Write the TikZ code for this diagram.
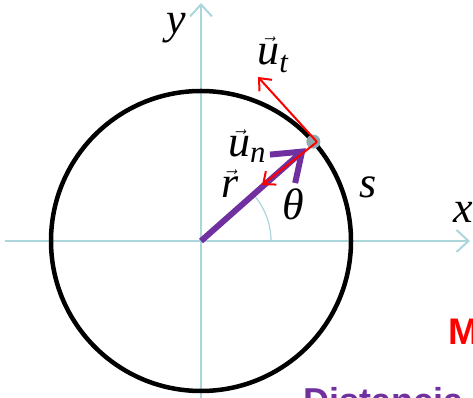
\documentclass[tikz,border=0pt]{standalone}
\usepackage{fontspec}
\setmainfont{Liberation Serif}
\newfontfamily\headfont{Liberation Sans}
\usepackage{amsmath}
\usepackage{xcolor}
\usepackage{tikz}
\usetikzlibrary{arrows.meta,positioning,calc}

\definecolor{axiscol}{RGB}{170,214,220}
\definecolor{vecpurple}{RGB}{112,48,160}
\definecolor{dotgray}{RGB}{145,168,172}

\tikzset{
  axis/.style={axiscol,line width=2pt,-{Straight Barb[length=12pt,width=22pt]}},
  lbl/.style={font=\fontsize{44}{44}\selectfont,inner sep=0pt},
  unitvec/.style={red,line width=2pt,-{Straight Barb[length=10pt,width=17pt]}}
}

\begin{document}
\begin{tikzpicture}[x=1pt,y=1pt]
  \useasboundingbox (0,0) rectangle (473,398);
  % axes
  \coordinate (O) at (201,157);
  \coordinate (xl) at (5,157);
  \coordinate (xr) at (470,157);
  \coordinate (yb) at (201,0);
  \coordinate (yt) at (201,395);
  \draw[axis] (xl) -- (xr);
  \draw[axis] (yb) -- (yt);
  % trajectory
  \draw[black,line width=4.5pt] (O) circle (150);
  % angle
  \draw[axiscol,line width=1.2pt] ($(O)+(70,0)$) arc (0:41.5:70);
  % position vector and unit vectors
  \coordinate (P) at ($(O)+(41.5:150)$);
  \coordinate (rend) at ($(O)+(41.5:140)$);
  \coordinate (Pr) at (317,256);
  \coordinate (ut) at (258,321);
  \coordinate (un) at (262,213);
  \draw[vecpurple,line width=6pt,-{Straight Barb[length=26pt,width=38pt]}] (O) -- (rend);
  \fill[dotgray] (P) circle (7);
  \draw[unitvec] (Pr) -- (ut);
  \draw[unitvec] (Pr) -- (un);
  % labels
  \node[lbl] (ylab) at (176,370) {\textit{y}};
  \node[lbl] (xlab) at (463,186) {\textit{x}};
  \node[lbl] (utlab) at (273,343) {$\vec{\textit{u}}_{\textit{t}}$};
  \node[lbl] (unlab) at (247,252) {$\vec{\textit{u}}_{\textit{n}}$};
  \node[lbl] (rlab) at (230,214) {$\vec{\textit{r}}$};
  \node[lbl] (thlab) at (293,194) {\textit{θ}};
  \node[lbl] (slab) at (368,211) {\textit{s}};
  \node[font=\headfont\bfseries\fontsize{37}{37}\selectfont,red,anchor=base west,inner sep=0pt] (mtxt) at (448,53) {M};
  \node[font=\headfont\bfseries\fontsize{36}{36}\selectfont,vecpurple,anchor=base west,inner sep=0pt] (dtxt) at (303,-16) {Distancia};
\end{tikzpicture}
\end{document}
